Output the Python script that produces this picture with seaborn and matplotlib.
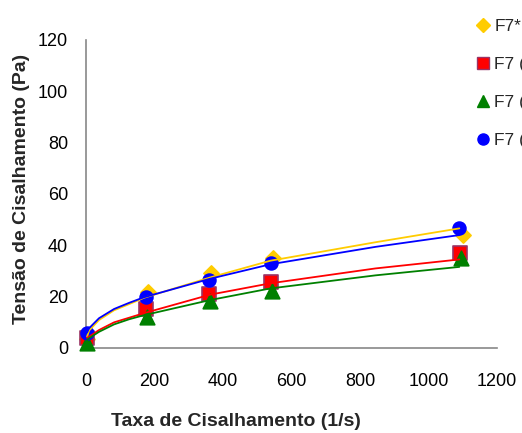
import matplotlib
matplotlib.use("Agg")
import matplotlib.pyplot as plt
import seaborn as sns
import pandas as pd

# Measured points (shear rate in 1/s, shear stress in Pa)
labels = ["F7*", "F7 (", "F7 (", "F7 ("]
rate_f7s = [3, 182, 364, 545, 1100]
stress_f7s = [3.5, 21.9, 29.3, 34.9, 44.2]
rate_a = [2, 176, 360, 541, 1092]
stress_a = [4.0, 15.2, 21.0, 25.8, 37.1]
rate_b = [4, 178, 362, 543, 1096]
stress_b = [1.8, 12.2, 18.2, 22.3, 34.9]
rate_c = [3, 175, 358, 540, 1090]
stress_c = [5.7, 20.0, 26.5, 33.0, 46.6]

# Trend curves read along the shear-rate axis
curve_rate = [3, 9, 38, 82, 126, 170, 363, 538, 845, 1090]
curve_f7s = [4.4, 6.8, 10.9, 14.7, 17.1, 19.6, 27.5, 34.0, 41.2, 46.6]
curve_a = [4.0, 4.4, 7.0, 10.0, 11.8, 13.6, 20.8, 25.2, 31.0, 34.5]
curve_b = [3.0, 3.8, 6.3, 9.2, 11.2, 12.8, 18.7, 23.2, 28.3, 31.6]
curve_c = [6.0, 7.7, 11.6, 15.2, 17.6, 19.8, 27.0, 32.6, 39.4, 44.0]

sns.set_style("white")
plt.rcParams["font.family"] = ["Liberation Sans", "DejaVu Sans"]

fig = plt.figure(figsize=(5.22, 4.33), dpi=100)
ax = fig.add_axes([86 / 522, 1 - 348 / 433, (497 - 86) / 522, (348 - 40) / 433])

series = [
    (rate_f7s, stress_f7s, curve_f7s, "#FFCC00", "D", 60, "#FFCC00"),
    (rate_a, stress_a, curve_a, "#FF0000", "s", 95, "#993366"),
    (rate_b, stress_b, curve_b, "#008000", "^", 110, "#008000"),
    (rate_c, stress_c, curve_c, "#0000FF", "o", 85, "#0000FF"),
]

handles = []
for i, (rx, ry, cy, col, mk, sz, ec) in enumerate(series):
    pts = pd.DataFrame({"rate": rx, "stress": ry})
    sns.scatterplot(data=pts, x="rate", y="stress", ax=ax, color=col, marker=mk,
                    s=sz, edgecolor=ec, linewidth=1.2, zorder=3 + i * 0.1,
                    clip_on=False, legend=False)
    handles.append(plt.Line2D([], [], linestyle="none", marker=mk, color=col,
                              markeredgecolor=ec, markersize=8 if mk != "D" else 7))

for rx, ry, cy, col, mk, sz, ec in series:
    cur = pd.DataFrame({"rate": curve_rate, "stress": cy})
    sns.lineplot(data=cur, x="rate", y="stress", ax=ax, color=col, linewidth=1.3,
                 zorder=5, legend=False)

ax.set_xlim(0, 1200)
ax.set_ylim(0, 120)
ax.set_xticks(range(0, 1201, 200))
ax.set_yticks(range(0, 121, 20))
ax.set_xlabel("")
ax.set_ylabel("")

for side in ["top", "right"]:
    ax.spines[side].set_visible(False)
for side in ["left", "bottom"]:
    ax.spines[side].set_color("#888888")
    ax.spines[side].set_linewidth(1.2)
ax.tick_params(axis="both", which="major", direction="out", length=6, width=1.2,
               color="#888888", labelsize=13, labelcolor="black", pad=12)
ax.tick_params(axis="y", pad=6, length=7)

fig.text(236 / 522, 1 - 421 / 433, "Taxa de Cisalhamento (1/s)", ha="center",
         va="center", fontsize=14, fontweight="bold")
fig.text(22 / 522, 1 - 189 / 433, "Tensão de Cisalhamento (Pa)", ha="center",
         va="center", rotation=90, fontsize=14, fontweight="bold")

fig.legend(handles, labels, loc="upper left", bbox_to_anchor=(467 / 522, 1 - 12 / 433),
           frameon=False, fontsize=12.5, handlelength=1.0, handletextpad=0.17,
           labelspacing=1.32, borderaxespad=0)

fig.savefig("out.png", dpi=100)
